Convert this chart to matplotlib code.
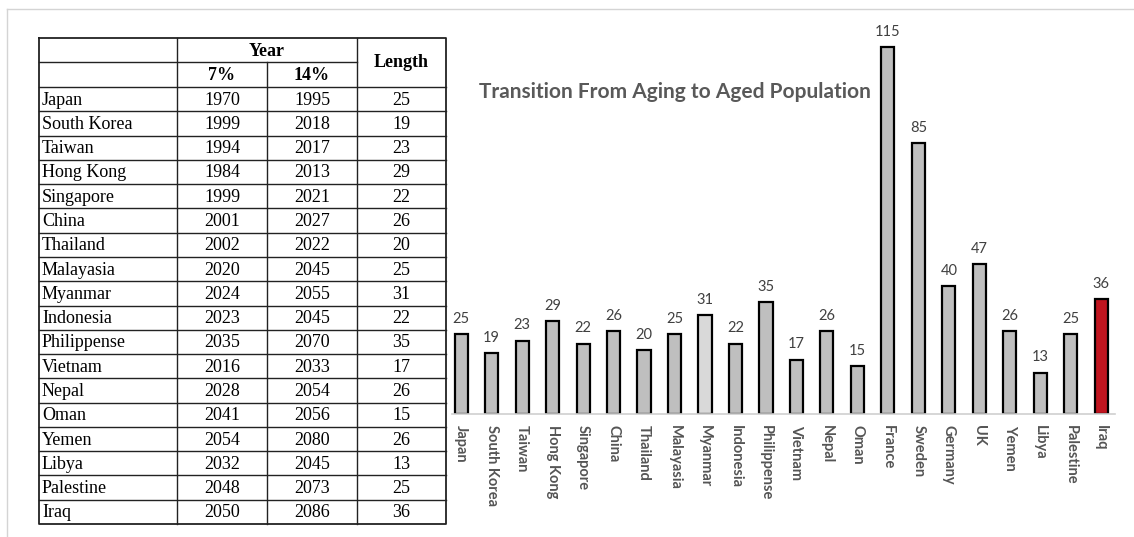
import matplotlib.pyplot as plt
from matplotlib.lines import Line2D

# table data
table_countries = ["Japan", "South Korea", "Taiwan", "Hong Kong", "Singapore", "China",
                   "Thailand", "Malayasia", "Myanmar", "Indonesia", "Philippense", "Vietnam",
                   "Nepal", "Oman", "Yemen", "Libya", "Palestine", "Iraq"]
year_7 = [1970, 1999, 1994, 1984, 1999, 2001, 2002, 2020, 2024, 2023, 2035, 2016,
          2028, 2041, 2054, 2032, 2048, 2050]
year_14 = [1995, 2018, 2017, 2013, 2021, 2027, 2022, 2045, 2055, 2045, 2070, 2033,
           2054, 2056, 2080, 2045, 2073, 2086]
length = [25, 19, 23, 29, 22, 26, 20, 25, 31, 22, 35, 17, 26, 15, 26, 13, 25, 36]

# chart data
bar_labels = ["Japan", "South Korea", "Taiwan", "Hong Kong", "Singapore", "China",
              "Thailand", "Malayasia", "Myanmar", "Indonesia", "Philippense", "Vietnam",
              "Nepal", "Oman", "France", "Sweden", "Germany", "UK", "Yemen", "Libya",
              "Palestine", "Iraq"]
bar_values = [25, 19, 23, 29, 22, 26, 20, 25, 31, 22, 35, 17, 26, 15, 115, 85, 40, 47,
              26, 13, 25, 36]

W, H = 1134, 537
fig = plt.figure(figsize=(W / 100, H / 100), dpi=100)
fig.patch.set_facecolor("white")

# full-figure overlay in pixel coords for the table and frame
ov = fig.add_axes([0, 0, 1, 1])
ov.set_xlim(0, W)
ov.set_ylim(H, 0)
ov.axis("off")

# screenshot frame
ov.add_line(Line2D([7, W], [9, 9], color="#d4d4d4", lw=1))
ov.add_line(Line2D([7, 7], [9, H], color="#d4d4d4", lw=1))

# table geometry
x0, x1, x2, x3, x4 = 39, 177, 267, 357, 446
y_top, y_mid, y_hdr, y_bot = 38, 62, 87, 524
n = len(table_countries)
rh = (y_bot - y_hdr) / n
lc = "#222222"
serif = "Liberation Serif"
fs = 13

# outer border
ov.add_line(Line2D([x0, x4, x4, x0, x0], [y_top, y_top, y_bot, y_bot, y_top], color=lc, lw=1.3))
for x in (x1, x3):
    ov.add_line(Line2D([x, x], [y_top, y_bot], color=lc, lw=1))
ov.add_line(Line2D([x2, x2], [y_mid, y_bot], color=lc, lw=1))
ov.add_line(Line2D([x0, x3], [y_mid, y_mid], color=lc, lw=1))
for i in range(n):
    y = y_hdr + i * rh
    ov.add_line(Line2D([x0, x4], [y, y], color=lc, lw=1))

ov.text((x1 + x3) / 2, (y_top + y_mid) / 2 + 1, "Year", family=serif, weight="bold",
        fontsize=fs, ha="center", va="center")
ov.text((x1 + x2) / 2, (y_mid + y_hdr) / 2 + 1, "7%", family=serif, weight="bold",
        fontsize=fs, ha="center", va="center")
ov.text((x2 + x3) / 2, (y_mid + y_hdr) / 2 + 1, "14%", family=serif, weight="bold",
        fontsize=fs, ha="center", va="center")
ov.text((x3 + x4) / 2, (y_top + y_hdr) / 2, "Length", family=serif, weight="bold",
        fontsize=fs, ha="center", va="center")

for i, c in enumerate(table_countries):
    yc = y_hdr + (i + 0.5) * rh + 1
    ov.text(x0 + 3, yc, c, family=serif, fontsize=fs, ha="left", va="center")
    ov.text((x1 + x2) / 2, yc, str(year_7[i]), family=serif, fontsize=fs, ha="center", va="center")
    ov.text((x2 + x3) / 2, yc, str(year_14[i]), family=serif, fontsize=fs, ha="center", va="center")
    ov.text((x3 + x4) / 2, yc, str(length[i]), family=serif, fontsize=fs, ha="center", va="center")

# bar chart
base_y, top_y = 414, 20
left_px, right_px = 452, 1115
ax = fig.add_axes([left_px / W, (H - base_y) / H, (right_px - left_px) / W, (base_y - top_y) / H])
ax.patch.set_alpha(0)

colors = ["#bfbfbf"] * len(bar_values)
colors[bar_labels.index("Myanmar")] = "#d9d9d9"
colors[-1] = "#c0151f"

pos = list(range(len(bar_values)))
bars = ax.bar(pos, bar_values, width=0.43, color=colors, edgecolor="black", linewidth=1.6)
ax.set_xlim(-0.3, len(bar_values) - 0.55)
ax.set_ylim(0, (base_y - top_y) / 3.19)

for b, v in zip(bars, bar_values):
    ax.annotate(str(v), (b.get_x() + b.get_width() / 2, v), xytext=(0, 6),
                textcoords="offset points", ha="center", va="bottom",
                fontsize=10.5, color="#404040", family="Lato")

ax.set_xticks(pos)
ax.set_xticklabels(bar_labels, rotation=-90, fontsize=10.5, fontweight="bold",
                   color="#555555", family="Lato", va="top", ha="center")
ax.tick_params(axis="x", length=0, pad=8)
ax.set_yticks([])
for s in ("top", "right", "left"):
    ax.spines[s].set_visible(False)
ax.spines["bottom"].set_color("#d0d0d0")
ax.spines["bottom"].set_linewidth(1.2)

fig.text(675 / W, 1 - 92 / H, "Transition From Aging to Aged Population", ha="center",
         va="center", fontsize=15, fontweight="bold", color="#595959", family="Lato")

fig.savefig("out.png", dpi=100)
